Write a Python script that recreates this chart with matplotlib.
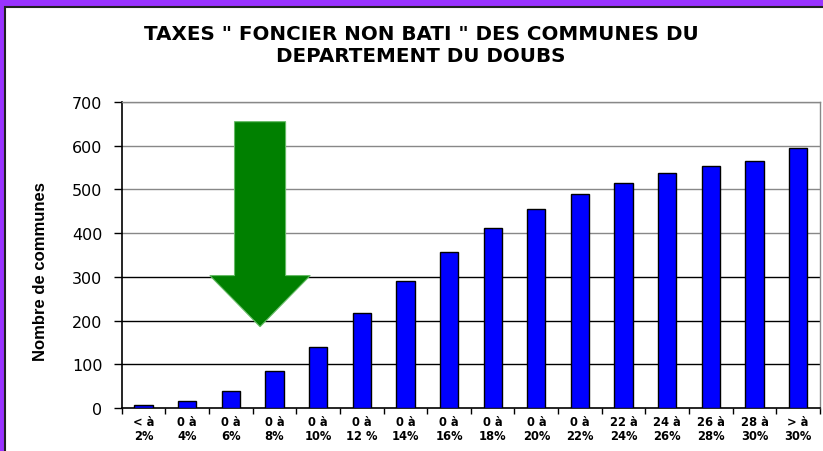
import matplotlib.pyplot as plt
from matplotlib.patches import Rectangle, FancyArrow
import numpy as np

title = 'TAXES " FONCIER NON BATI " DES COMMUNES DU\nDEPARTEMENT DU DOUBS'
ylabel = 'Nombre de communes'

categories = ['< à\n2%', '0 à\n4%', '0 à\n6%', '0 à\n8%', '0 à\n10%', '0 à\n12 %',
              '0 à\n14%', '0 à\n16%', '0 à\n18%', '0 à\n20%', '0 à\n22%', '22 à\n24%',
              '24 à\n26%', '26 à\n28%', '28 à\n30%', '> à\n30%']
communes = [6, 16, 39, 84, 140, 217, 290, 357, 411, 455, 490, 514, 537, 553, 566, 595]
yticks = [0, 100, 200, 300, 400, 500, 600, 700]

# green arrow pointing at the low rates
arrow_x, arrow_top, arrow_tip = 2.67, 655, 186

plt.rcParams['font.family'] = ['DejaVu Sans']

fig = plt.figure(figsize=(8.23, 4.52), dpi=100)
fig.patch.set_facecolor('#9933FF')
fig.patches.append(Rectangle((5 / 823, -0.1), 1.1, (452 - 8) / 452 + 0.1,
                             transform=fig.transFigure, facecolor='white',
                             edgecolor='#222222', linewidth=1.5, zorder=-5))

ax = fig.add_axes([121.7 / 823, 43 / 452, (820 - 121.7) / 823, 306 / 452])
ax.set_facecolor('white')

x = np.arange(len(categories))
for v in yticks[1:]:
    ax.axhline(v, color='#888888' if v > 350 else 'black', linewidth=1.0, zorder=1)

ax.bar(x, communes, width=0.42, color='#0000FF', edgecolor='black', linewidth=1.0, zorder=3)

ax.add_patch(FancyArrow(arrow_x, arrow_top, 0, arrow_tip - arrow_top, width=1.17,
                        head_width=2.3, head_length=117, length_includes_head=True,
                        facecolor='#008000', edgecolor='#66BB66', linewidth=0.8, zorder=4))

ax.set_xlim(-0.5, len(categories) - 0.5)
ax.set_ylim(0, 700)
ax.set_yticks(yticks)
ax.set_yticklabels([str(v) for v in yticks], fontsize=11.5)
ax.tick_params(axis='y', direction='out', length=6, width=1, pad=8)

ax.set_xticks(x)
ax.set_xticklabels(categories, fontsize=8.3, fontweight='bold', linespacing=1.1)
ax.set_xticks(np.arange(len(categories) + 1) - 0.5, minor=True)
ax.tick_params(axis='x', which='major', length=0, pad=5)
ax.tick_params(axis='x', which='minor', direction='out', length=4, width=1)

for side in ['left', 'bottom']:
    ax.spines[side].set_color('black')
    ax.spines[side].set_linewidth(1.2)
for side in ['top', 'right']:
    ax.spines[side].set_color('#888888')
    ax.spines[side].set_linewidth(1.0)

fig.text(421 / 823, 1 - 45 / 452, title, ha='center', va='center', fontsize=14.3,
         fontweight='bold', linespacing=1.2)
fig.text(41 / 823, 1 - 272 / 452, ylabel, ha='center', va='center', rotation=90,
         fontsize=12, fontweight='bold',
         family=['Liberation Sans Narrow', 'Liberation Sans', 'DejaVu Sans'])

fig.savefig('out.png', dpi=100, facecolor=fig.get_facecolor())
